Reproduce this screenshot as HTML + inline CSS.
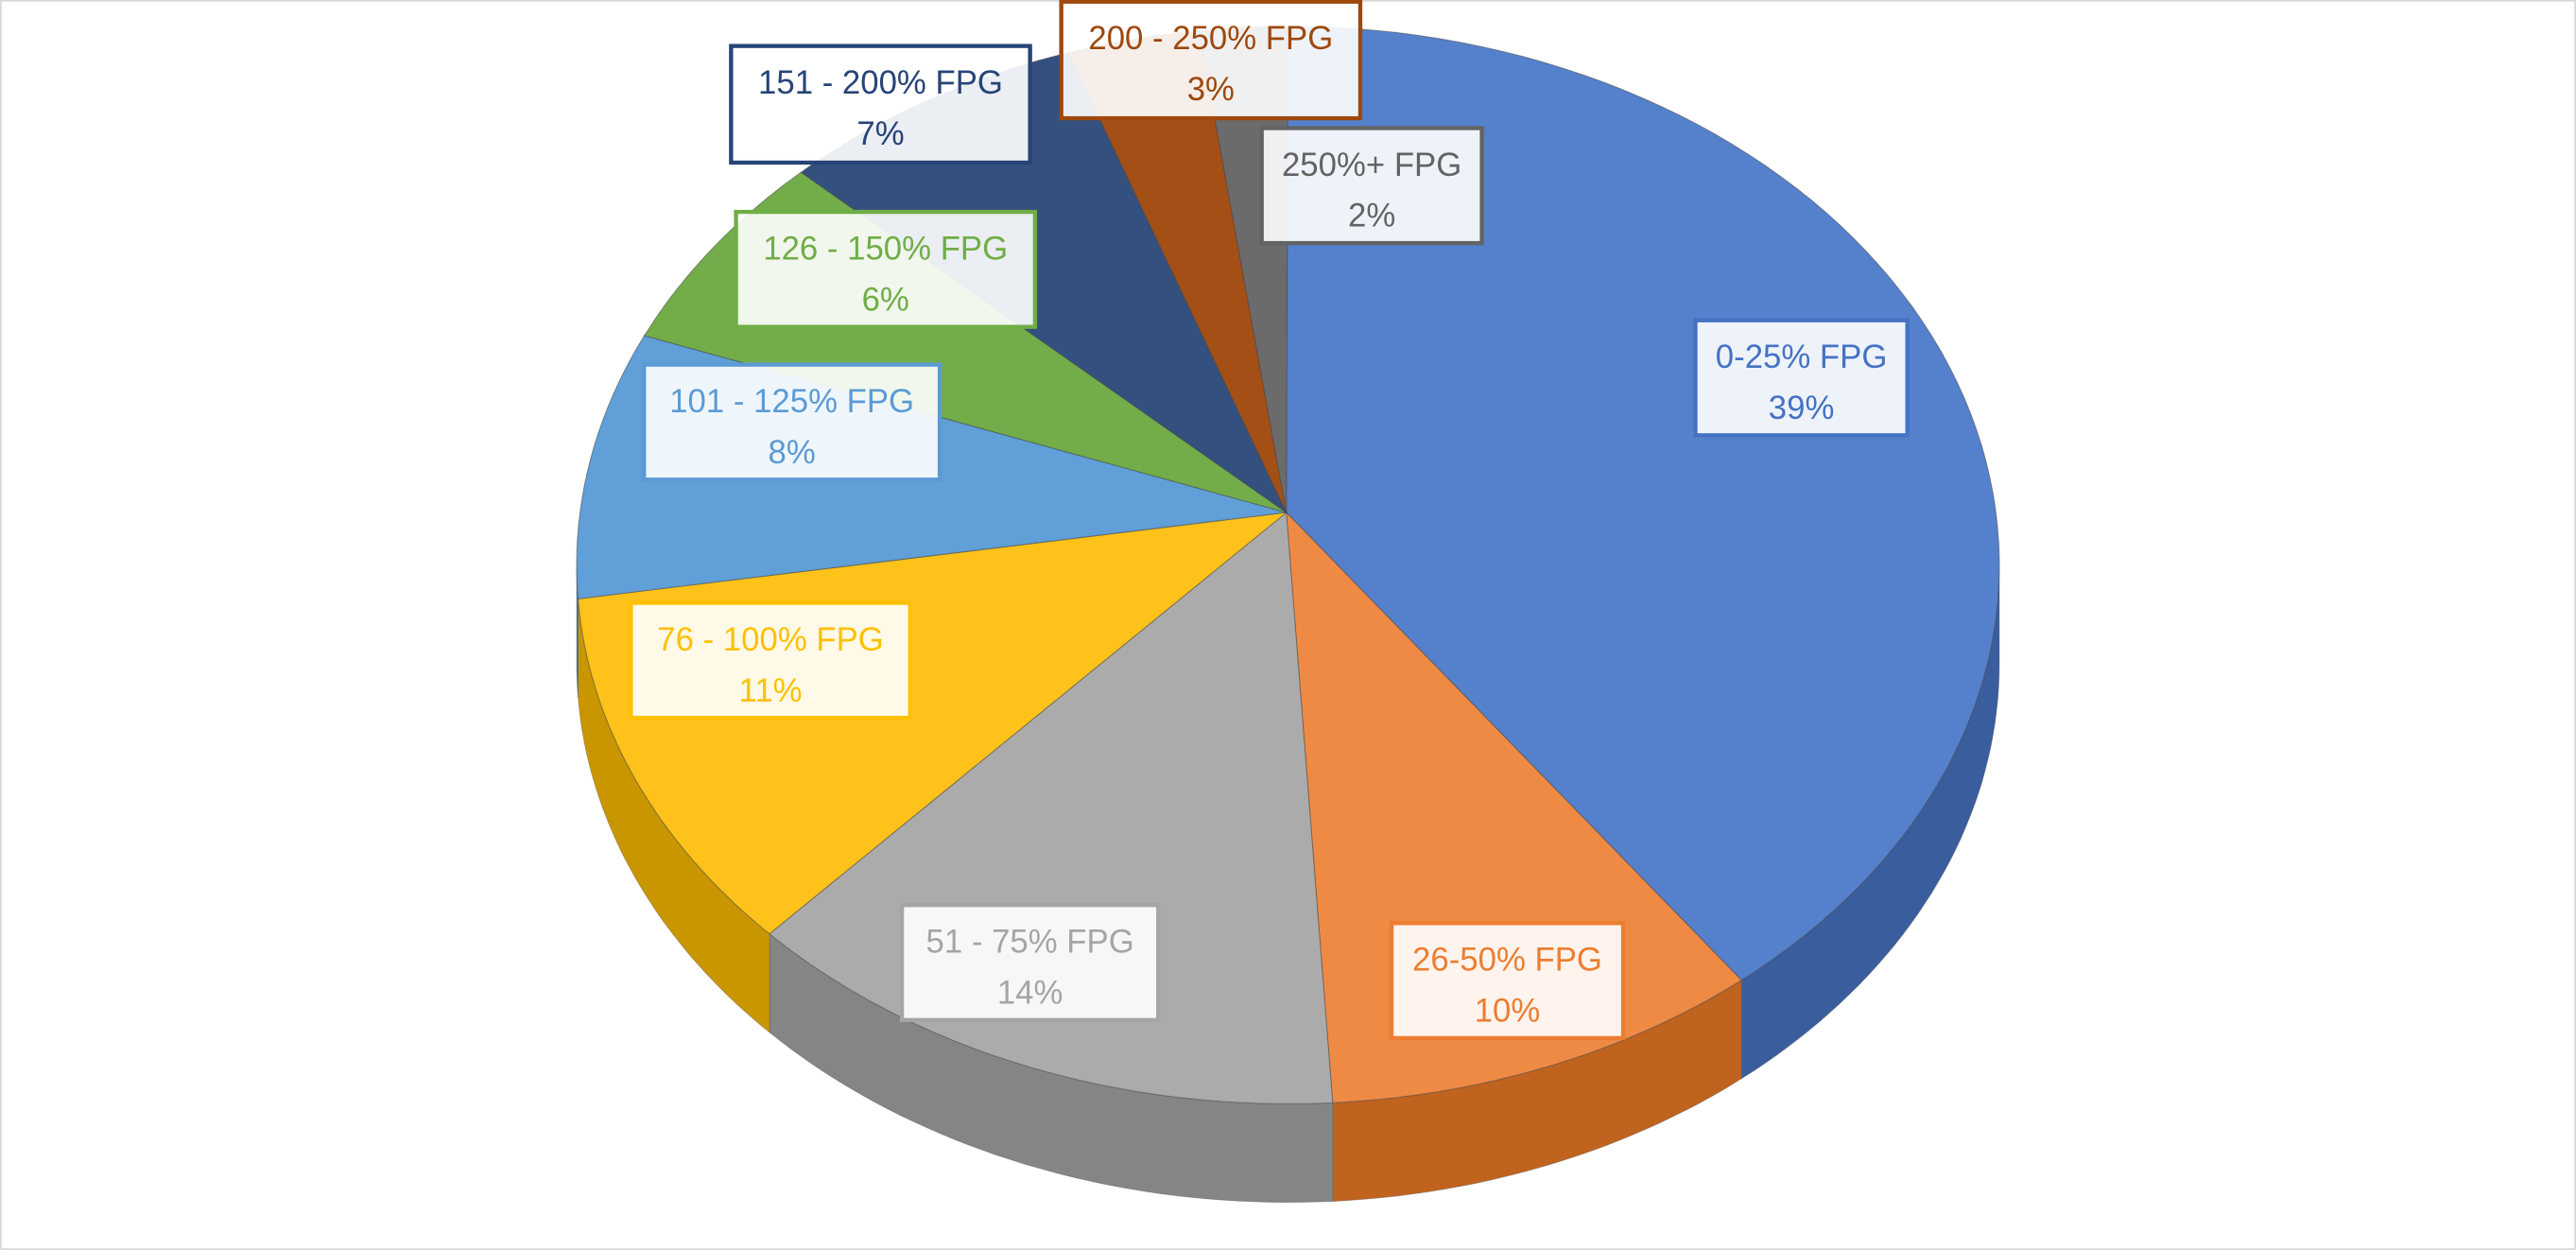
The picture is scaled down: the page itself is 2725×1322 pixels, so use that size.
<!DOCTYPE html>
<html><head><meta charset="utf-8"><style>
html,body{margin:0;padding:0;background:#fff}
svg{display:block}
text{font-family:"Liberation Sans",sans-serif;font-size:20px}
</style></head><body>
<svg id="s" width="2725" height="1322" viewBox="0 0 1568 761" preserveAspectRatio="none" xmlns="http://www.w3.org/2000/svg">
<rect x="0.5" y="0.5" width="1567" height="760" fill="#fff" stroke="#d9d9d9"/>
<g id="pie"></g>
<g id="labels"></g>
</svg>
<script>
var cx=784,cy=344,rx=433,ry=328,ax=783,ay=312,D=60;
var data=[[39,"#5580CC","#3A5D9E"],[10,"#EF8A45","#C0631F"],[14,"#ABABAB","#858585"],[11,"#FEC21A","#C99600"],[8,"#609FD7","#447BAE"],[6,"#72AD4A","#527F33"],[7,"#34507F","#1F3357"],[3,"#A44F15","#7A3608"],[2,"#6B6B6B","#4A4A4A"]];
function P(a,dy){return [cx+rx*Math.cos(a),cy+ry*Math.sin(a)+(dy||0)];}
var g=document.getElementById('pie'),sides="",tops="";
var a0=-Math.PI/2;
data.forEach(function(d){
 var a1=a0+d[0]/100*2*Math.PI;
 var s=Math.max(a0,0),e=Math.min(a1,Math.PI);
 var s2=Math.max(a0,2*Math.PI),e2=Math.min(a1,3*Math.PI);
 [[s,e],[s2,e2]].forEach(function(r){
  if(r[1]>r[0]){var pts=[],n=40;
   for(var i=0;i<=n;i++){var p=P(r[0]+(r[1]-r[0])*i/n);pts.push(p);}
   var str="M"+pts.map(function(p){return p[0].toFixed(1)+","+p[1].toFixed(1)}).join("L");
   for(var i=n;i>=0;i--){var p=pts[i];str+="L"+p[0].toFixed(1)+","+(p[1]+D).toFixed(1);}
   sides+='<path d="'+str+'Z" fill="'+d[2]+'" stroke="#555" stroke-width="0.5" stroke-opacity="0.4"/>';}
 });
 var pts=[],n=80;for(var i=0;i<=n;i++)pts.push(P(a0+(a1-a0)*i/n));
 var str="M"+ax+","+ay+"L"+pts.map(function(p){return p[0].toFixed(1)+","+p[1].toFixed(1)}).join("L")+"Z";
 tops+='<path d="'+str+'" fill="'+d[1]+'" stroke="#444" stroke-width="0.6" stroke-opacity="0.5"/>';
 a0=a1;
});
g.innerHTML=sides+tops;
var L=[["0-25% FPG","39%",1032,195,129,70,"#4472C4"],["26-50% FPG","10%",847,562,141,70,"#ED7D31"],["51 - 75% FPG","14%",549,551,156,70,"#A5A5A5"],["76 - 100% FPG","11%",384,367,170,70,"#FFC000"],["101 - 125% FPG","8%",392,222,180,70,"#5B9BD5"],["126 - 150% FPG","6%",448,129,182,70,"#70AD47"],["151 - 200% FPG","7%",445,28,182,71,"#264478"],["200 - 250% FPG","3%",646,1,182,71,"#9E480E"],["250%+ FPG","2%",768,78,134,70,"#636363"]];
var h="";
L.forEach(function(l){var x=l[2],y=l[3],w=l[4],hh=l[5],m=x+w/2;
 h+='<rect x="'+x+'" y="'+y+'" width="'+w+'" height="'+hh+'" fill="#fff" fill-opacity="0.9" stroke="'+l[6]+'" stroke-width="2.5"/>';
 h+='<text x="'+m+'" y="'+(y+29)+'" text-anchor="middle" fill="'+l[6]+'">'+l[0]+'</text>';
 h+='<text x="'+m+'" y="'+(y+60)+'" text-anchor="middle" fill="'+l[6]+'">'+l[1]+'</text>';});
document.getElementById('labels').innerHTML=h;
</script>
</body></html>
